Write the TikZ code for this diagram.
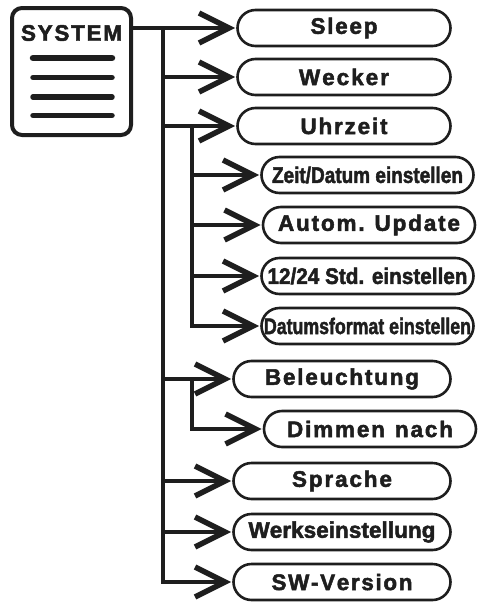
\documentclass[tikz,border=0pt]{standalone}
\usepackage{fontspec}
\setmainfont{Liberation Sans}
\newfontfamily\nsp[FakeBold=2.2]{Liberation Sans Bold}
\usetikzlibrary{arrows.meta}
\definecolor{ink}{HTML}{1E1E1E}
% letter spacing to a target width
\newcount\lscount
\newdimen\lsgap
\newsavebox\lsbox
\def\lsB#1{\ifx\relax#1\else\kern\lsgap\relax#1\expandafter\lsB\fi}
\def\lsfirst#1{#1\lsB}
\def\lsC#1{\ifx\relax#1\else\advance\lscount1\relax\expandafter\lsC\fi}
\newcommand\fitw[2]{%
  \lsgap=0pt
  \sbox\lsbox{\lsfirst#2\relax}%
  \lscount=0 \lsC#2\relax
  \lsgap=\dimexpr(#1-\wd\lsbox)/(\lscount-1)\relax
  \lsfirst#2\relax}
\newcommand\fitx[2]{\resizebox{#1}{\height}{#2}}
\tikzset{
  menu/.style={draw=ink, line width=2.6pt, rounded corners=18pt, minimum height=36pt,
    inner sep=0pt, text=ink, font=\fontsize{22.5}{25}\selectfont\nsp},
  topm/.style={menu, minimum width=213pt},
  lowm/.style={menu, minimum width=217pt},
  subm/.style={menu, minimum width=212pt},
  conn/.style={draw=ink, line width=4pt},
  arr/.style={conn, -{Straight Barb[length=30pt,width=30pt,line width=5.5pt]}, shorten >=1pt},
  sysbox/.style={draw=ink, line width=4pt, rounded corners=10pt, minimum width=119pt,
    minimum height=127pt, inner sep=0pt},
  bar/.style={draw=ink, line width=5.5pt, line cap=round},
}
\begin{document}
\begin{tikzpicture}[x=1pt,y=-1pt]
\useasboundingbox (0,0) rectangle (482,603);
% system icon
\node[sysbox] (sys) at (71.5,71.5) {};
\node[text=ink, inner sep=0pt, font=\fontsize{22.5}{25}\selectfont\nsp] (systxt) at (71.5,33) {\fitw{101pt}{SYSTEM}};
\draw[bar, line width=6.5pt] (33,58) -- (112,58);
\draw[bar] (33,77.5) -- (112,77.5);
\draw[bar] (33,97) -- (112,97);
\draw[bar] (33,115.5) -- (112,115.5);
% menu items
\node[topm] (sleep) at (344,28) {\fitw{67pt}{Sleep}};
\node[topm] (wecker) at (344,77) {\fitw{90pt}{Wecker}};
\node[topm] (uhr) at (344,126) {\fitw{87pt}{Uhrzeit}};
\node[subm] (zeit) at (367.5,175) {\fitx{191pt}{Zeit/Datum einstellen}};
\node[subm] (auto) at (369,225) {\fitw{182pt}{Autom.~Update}};
\node[subm] (std) at (367.5,276) {\fitx{200pt}{12/24 Std. einstellen}};
\node[subm] (dfmt) at (367.5,326) {\fitx{207pt}{Datumsformat einstellen}};
\node[lowm] (bel) at (342,379) {\fitw{154pt}{Beleuchtung}};
\node[subm] (dimm) at (370,429) {\fitw{166pt}{Dimmen~nach}};
\node[lowm] (spr) at (342,481) {\fitw{100pt}{Sprache}};
\node[lowm] (werk) at (342,532) {\fitw{187pt}{Werkseinstellung}};
\node[lowm] (swv) at (342,582) {\fitw{141pt}{SW-Version}};
% trunks
\coordinate (t0) at (163,28);
\coordinate (s0) at (192,126);
\coordinate (s1) at (192,379);
\draw[arr] (sys.east |- sleep.west) -- (sleep.west);
\draw[arr] (t0) |- (swv.west);
\draw[arr] (t0 |- wecker.west) -- (wecker.west);
\draw[arr] (t0 |- uhr.west) -- (uhr.west);
\draw[arr] (t0 |- bel.west) -- (bel.west);
\draw[arr] (t0 |- spr.west) -- (spr.west);
\draw[arr] (t0 |- werk.west) -- (werk.west);
\draw[arr] (s0) |- (dfmt.west);
\draw[arr] (s0 |- zeit.west) -- (zeit.west);
\draw[arr] (s0 |- auto.west) -- (auto.west);
\draw[arr] (s0 |- std.west) -- (std.west);
\draw[arr] (s1) |- (dimm.west);
\end{tikzpicture}
\end{document}
